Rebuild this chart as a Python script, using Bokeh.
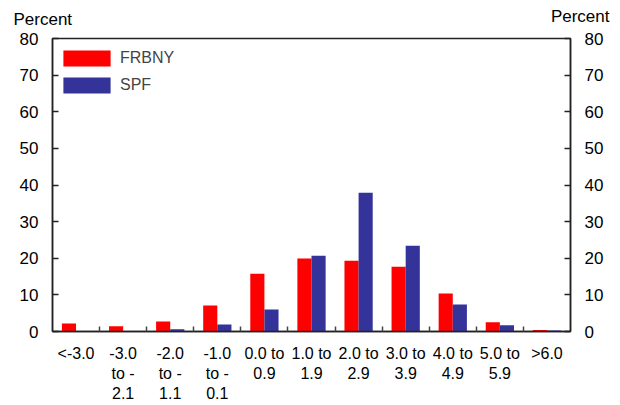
from bokeh.plotting import figure
from bokeh.models import (ColumnDataSource, LinearAxis, FixedTicker, Range1d,
                          Label, Legend, LegendItem)
from bokeh.transform import dodge
from bokeh.embed import file_html
from bokeh.resources import INLINE

# ---- data ----
categories = ["<-3.0", "-3.0 to -2.1", "-2.0 to -1.1", "-1.0 to -0.1",
              "0.0 to 0.9", "1.0 to 1.9", "2.0 to 2.9", "3.0 to 3.9",
              "4.0 to 4.9", "5.0 to 5.9", ">6.0"]
tick_labels = ["<-3.0", "-3.0\nto -\n2.1", "-2.0\nto -\n1.1", "-1.0\nto -\n0.1",
               "0.0 to\n0.9", "1.0 to\n1.9", "2.0 to\n2.9", "3.0 to\n3.9",
               "4.0 to\n4.9", "5.0 to\n5.9", ">6.0"]
frbny = [2.2, 1.4, 2.7, 7.1, 15.8, 19.9, 19.3, 17.7, 10.4, 2.5, 0.4]
spf = [0.0, 0.0, 0.6, 1.9, 6.0, 20.7, 37.9, 23.4, 7.4, 1.7, 0.3]
y_ticks = [0, 10, 20, 30, 40, 50, 60, 70, 80]
unit_label = "Percent"

FONT = "Liberation Sans"
RED = "#FF0000"
BLUE = "#333399"

n = len(categories)
centers = [i + 0.5 for i in range(n)]
bounds = [i for i in range(1, n)]

src = ColumnDataSource(dict(x=centers, frbny=frbny, spf=spf))

p = figure(output_backend="svg", toolbar_location=None,
           x_range=Range1d(0, n), y_range=Range1d(0, 80),
           frame_width=518, frame_height=293,
           min_border_left=52, min_border_right=50, min_border_top=34,
           min_border_bottom=66)

r1 = p.vbar(x=dodge("x", -0.15), top="frbny", width=0.3, source=src,
            fill_color=RED, line_color=None)
r2 = p.vbar(x=dodge("x", 0.15), top="spf", width=0.3, source=src,
            fill_color=BLUE, line_color=None)

p.xgrid.visible = False
p.ygrid.visible = False
p.outline_line_color = "#222222"
p.outline_line_width = 1.5
p.background_fill_color = "white"
p.border_fill_color = "white"

# x axis
xa = p.xaxis[0]
xa.ticker = FixedTicker(ticks=centers, minor_ticks=bounds)
xa.major_label_overrides = {c: t for c, t in zip(centers, tick_labels)}
xa.major_tick_line_color = None
xa.minor_tick_in = 5
xa.minor_tick_out = 0
xa.minor_tick_line_color = "#444444"
xa.minor_tick_line_width = 1.5
xa.axis_line_color = "#222222"
xa.axis_line_width = 1.5
xa.major_label_text_font = FONT
xa.major_label_text_font_size = "16px"
xa.major_label_text_color = "black"
xa.major_label_standoff = 7


def style_y(ax):
    ax.ticker = FixedTicker(ticks=y_ticks)
    ax.major_tick_in = 6
    ax.major_tick_out = 0
    ax.minor_tick_line_color = None
    ax.major_tick_line_color = "#222222"
    ax.major_tick_line_width = 1.5
    ax.axis_line_color = "#222222"
    ax.axis_line_width = 1.5
    ax.major_label_text_font = FONT
    ax.major_label_text_font_size = "17px"
    ax.major_label_text_color = "black"
    ax.major_label_standoff = 14


style_y(p.yaxis[0])
ra = LinearAxis()
style_y(ra)
p.add_layout(ra, "right")

# "Percent" unit labels in the top side panel (not clipped to the frame)
p.add_layout(Label(x=-39, y=19, x_units="screen", y_units="screen",
                   text=unit_label, text_align="left",
                   text_baseline="alphabetic", text_font=FONT,
                   text_font_size="17px", text_color="black"), "above")
p.add_layout(Label(x=557, y=3, x_units="screen", y_units="screen",
                   text=unit_label, text_align="right",
                   text_baseline="alphabetic", text_font=FONT,
                   text_font_size="17px", text_color="black"), "above")

legend = Legend(items=[LegendItem(label="FRBNY", renderers=[r1]),
                       LegendItem(label="SPF", renderers=[r2])],
                location=(5, 236))
legend.margin = 0
legend.padding = 0
legend.spacing = 7
legend.glyph_width = 59
legend.glyph_height = 20
legend.label_height = 20
legend.label_standoff = 4
legend.label_text_font = FONT
legend.label_text_font_size = "16px"
legend.border_line_color = None
legend.background_fill_alpha = 0
p.add_layout(legend)

open("out.html", "w").write(file_html(p, INLINE))
